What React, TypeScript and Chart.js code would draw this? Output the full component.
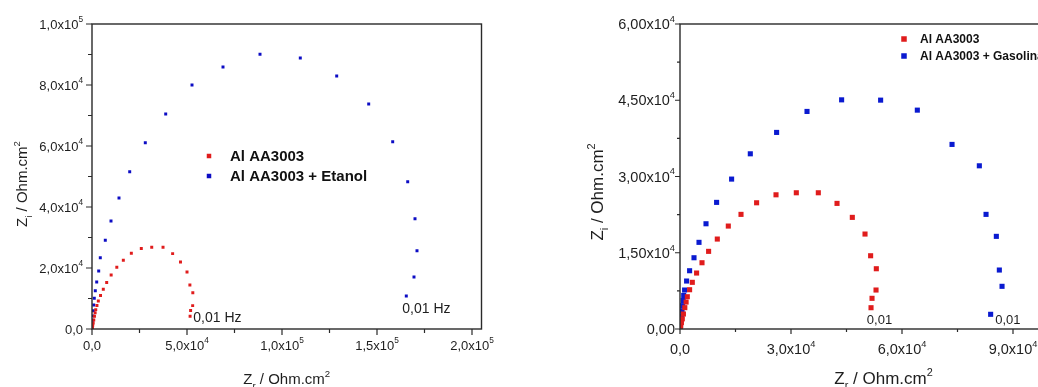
import React, { useEffect, useRef } from 'react';
import { Chart, registerables } from 'chart.js';

Chart.register(...registerables);

// ---------------- data ----------------
// Al AA3003 (same specimen shown in both plots)
const alX = [30, 90, 200, 380, 620, 920, 1300, 1650, 1973, 2595, 3325, 4487, 5947, 7731, 10082, 13055, 16488, 20705, 25949, 31436, 37383, 42438, 46573, 50005, 51520, 53060, 52980, 51900, 51630];
const alY = [100, 300, 650, 1250, 2000, 2950, 4200, 5300, 6350, 7726, 9181, 11010, 13035, 15276, 17694, 20250, 22550, 24830, 26400, 26800, 26800, 24710, 21960, 18680, 14410, 11855, 7667, 6036, 4188];

// Al AA3003 + Etanol
const etanolX = [20, 60, 130, 230, 360, 520, 700, 895, 1210, 1737, 2474, 3526, 4368, 7000, 10000, 14210, 19842, 28053, 38790, 52632, 68947, 88421, 109630, 128790, 145630, 158260, 166160, 170000, 171050, 169470, 165420];
const etanolY = [150, 450, 1000, 1800, 2900, 4300, 6000, 7870, 10066, 12560, 15410, 19018, 23380, 29085, 35410, 42950, 51580, 61090, 70500, 80000, 85900, 90070, 88860, 82960, 73780, 61420, 48300, 36170, 25670, 17050, 10820];

// Al AA3003 + Gasolina
const gasolinaX = [20, 100, 250, 400, 550, 700, 850, 1000, 1243, 1784, 2595, 3784, 5136, 7028, 9893, 13947, 19002, 26111, 34328, 43680, 54222, 64142, 73522, 80902, 82713, 85497, 86308, 87037, 83957];
const gasolinaY = [150, 700, 1600, 2600, 3600, 4600, 5600, 6600, 7667, 9437, 11462, 14018, 17046, 20702, 24909, 29490, 34465, 38672, 42800, 45080, 45021, 43055, 36312, 32105, 22550, 18225, 11600, 8395, 2890];

const nameAl = 'Al AA3003';
const nameEtanol = 'Al AA3003 + Etanol';
const nameGasolina = 'Al AA3003 + Gasolina';

// ticks
const leftXTicks = [0, 50000, 100000, 150000, 200000];
const leftXTickLabels = ['0,0', '5,0x10^{4}', '1,0x10^{5}', '1,5x10^{5}', '2,0x10^{5}'];
const leftXMinor = [25000, 75000, 125000, 175000];
const leftYTicks = [0, 20000, 40000, 60000, 80000, 100000];
const leftYTickLabels = ['0,0', '2,0x10^{4}', '4,0x10^{4}', '6,0x10^{4}', '8,0x10^{4}', '1,0x10^{5}'];
const leftYMinor = [10000, 30000, 50000, 70000, 90000];

const rightXTicks = [0, 30000, 60000, 90000];
const rightXTickLabels = ['0,0', '3,0x10^{4}', '6,0x10^{4}', '9,0x10^{4}'];
const rightXMinor = [15000, 45000, 75000, 105000];
const rightYTicks = [0, 15000, 30000, 45000, 60000];
const rightYTickLabels = ['0,00', '1,50x10^{4}', '3,00x10^{4}', '4,50x10^{4}', '6,00x10^{4}'];
const rightYMinor = [7500, 22500, 37500, 52500];

const xTitle = 'Z_{r} / Ohm.cm^{2}';
const yTitle = 'Z_{i} / Ohm.cm^{2}';
const noteLeft = '0,01 Hz';
const noteRight = '0,01';

// ---------------- drawing helpers ----------------
const FAMILY = '"Liberation Sans", Arial, Helvetica, sans-serif';
const RED = '#e01c1c';
const BLUE = '#0c0cc4';
const BLUE2 = '#0a1ad0';

type Seg = { t: string; k: 'n' | 'sub' | 'sup' };

function parseRich(s: string): Seg[] {
  const out: Seg[] = [];
  const re = /([_^])\{([^}]*)\}/g;
  let last = 0;
  let m: RegExpExecArray | null;
  while ((m = re.exec(s))) {
    if (m.index > last) out.push({ t: s.slice(last, m.index), k: 'n' });
    out.push({ t: m[2], k: m[1] === '_' ? 'sub' : 'sup' });
    last = re.lastIndex;
  }
  if (last < s.length) out.push({ t: s.slice(last), k: 'n' });
  return out;
}

function drawRich(
  ctx: CanvasRenderingContext2D,
  s: string,
  x: number,
  y: number,
  align: 'left' | 'center' | 'right',
  size: number,
  weight = 'normal',
  color = '#1e1e1e'
) {
  const segs = parseRich(s);
  const small = size * 0.64;
  const fontOf = (k: string) => `${weight} ${k === 'n' ? size : small}px ${FAMILY}`;
  let total = 0;
  const widths = segs.map((g) => {
    ctx.font = fontOf(g.k);
    const w = ctx.measureText(g.t).width;
    total += w;
    return w;
  });
  let cx = align === 'center' ? x - total / 2 : align === 'right' ? x - total : x;
  ctx.fillStyle = color;
  ctx.textBaseline = 'alphabetic';
  ctx.textAlign = 'left';
  const base = y + size * 0.36;
  segs.forEach((g, i) => {
    ctx.font = fontOf(g.k);
    const dy = g.k === 'sup' ? -size * 0.5 : g.k === 'sub' ? size * 0.3 : 0;
    ctx.fillText(g.t, cx, base + dy);
    cx += widths[i];
  });
}

type DecorCfg = {
  xTicks: number[];
  xLabels: string[];
  xMinor: number[];
  yTicks: number[];
  yLabels: string[];
  yMinor: number[];
  tickSize: number;
  majorLen: number;
  minorLen: number;
  xLabelOffset: number;
  yLabelOffset: number;
  titleSize: number;
  xTitleY: number;
  yTitleX: number;
  yTitleY: number;
  legendX: number;
  legendTextX: number;
  legendY: number;
  legendGap: number;
  legendSize: number;
  legendMarker: number;
  noteSize: number;
  notes: { text: string; x: number; y: number }[];
};

function makeDecor(cfg: DecorCfg) {
  return {
    id: 'decor',
    afterDraw(chart: any) {
      const ctx: CanvasRenderingContext2D = chart.ctx;
      const { left, right, top, bottom } = chart.chartArea;
      const xs = chart.scales.x;
      const ys = chart.scales.y;
      ctx.save();
      ctx.strokeStyle = '#2a2a2a';
      ctx.lineWidth = 1.4;
      ctx.strokeRect(left, top, right - left, bottom - top);
      ctx.lineWidth = 1.2;
      ctx.beginPath();
      cfg.xTicks.forEach((v) => {
        const px = xs.getPixelForValue(v);
        ctx.moveTo(px, bottom);
        ctx.lineTo(px, bottom + cfg.majorLen);
      });
      cfg.xMinor.forEach((v) => {
        const px = xs.getPixelForValue(v);
        ctx.moveTo(px, bottom);
        ctx.lineTo(px, bottom + cfg.minorLen);
      });
      cfg.yTicks.forEach((v) => {
        const py = ys.getPixelForValue(v);
        ctx.moveTo(left, py);
        ctx.lineTo(left - cfg.majorLen, py);
      });
      cfg.yMinor.forEach((v) => {
        const py = ys.getPixelForValue(v);
        ctx.moveTo(left, py);
        ctx.lineTo(left - cfg.minorLen, py);
      });
      ctx.stroke();

      cfg.xTicks.forEach((v, i) =>
        drawRich(ctx, cfg.xLabels[i], xs.getPixelForValue(v), bottom + cfg.xLabelOffset, 'center', cfg.tickSize)
      );
      cfg.yTicks.forEach((v, i) =>
        drawRich(ctx, cfg.yLabels[i], left - cfg.yLabelOffset, ys.getPixelForValue(v), 'right', cfg.tickSize)
      );

      drawRich(ctx, xTitle, (left + right) / 2, cfg.xTitleY, 'center', cfg.titleSize);
      ctx.save();
      ctx.translate(cfg.yTitleX, cfg.yTitleY);
      ctx.rotate(-Math.PI / 2);
      drawRich(ctx, yTitle, 0, 0, 'center', cfg.titleSize);
      ctx.restore();

      chart.data.datasets.forEach((ds: any, i: number) => {
        const ly = cfg.legendY + i * cfg.legendGap;
        const s = cfg.legendMarker;
        ctx.fillStyle = ds.backgroundColor;
        ctx.fillRect(cfg.legendX - s / 2, ly - s / 2, s, s);
        drawRich(ctx, ds.label, cfg.legendTextX, ly, 'left', cfg.legendSize, 'bold', '#111');
      });

      cfg.notes.forEach((n) =>
        drawRich(ctx, n.text, xs.getPixelForValue(n.x), ys.getPixelForValue(n.y), 'left', cfg.noteSize)
      );
      ctx.restore();
    },
  };
}

function pts(xs: number[], ys: number[]) {
  return xs.map((x, i) => ({ x, y: ys[i] }));
}

function makeDataset(label: string, xs: number[], ys: number[], color: string, r: number) {
  return {
    label,
    data: pts(xs, ys),
    backgroundColor: color,
    borderColor: color,
    pointStyle: 'rect',
    pointRadius: r,
    pointBorderWidth: 0,
    pointHoverRadius: r,
    showLine: false,
  };
}

export default function App() {
  const leftRef = useRef<HTMLCanvasElement>(null);
  const rightRef = useRef<HTMLCanvasElement>(null);

  useEffect(() => {
    const left = new Chart(leftRef.current as HTMLCanvasElement, {
      type: 'scatter',
      data: {
        datasets: [
          makeDataset(nameAl, alX, alY, RED, 2.1),
          makeDataset(nameEtanol, etanolX, etanolY, BLUE, 2.1),
        ] as any,
      },
      options: {
        responsive: false,
        animation: false,
        layout: { padding: { left: 92, top: 24, right: 18.5, bottom: 58 } },
        plugins: { legend: { display: false }, tooltip: { enabled: false } },
        scales: {
          x: { type: 'linear', display: false, min: 0, max: 205000 },
          y: { type: 'linear', display: false, min: 0, max: 100000 },
        },
      },
      plugins: [
        makeDecor({
          xTicks: leftXTicks,
          xLabels: leftXTickLabels,
          xMinor: leftXMinor,
          yTicks: leftYTicks,
          yLabels: leftYTickLabels,
          yMinor: leftYMinor,
          tickSize: 13,
          majorLen: 6,
          minorLen: 4,
          xLabelOffset: 16,
          yLabelOffset: 9,
          titleSize: 15,
          xTitleY: 379,
          yTitleX: 22,
          yTitleY: 184,
          legendX: 209,
          legendTextX: 230,
          legendY: 156,
          legendGap: 20,
          legendSize: 15,
          legendMarker: 4.5,
          noteSize: 14,
          notes: [
            { text: noteLeft, x: 53300, y: 4000 },
            { text: noteLeft, x: 163300, y: 6800 },
          ],
        }) as any,
      ],
    });

    const right = new Chart(rightRef.current as HTMLCanvasElement, {
      type: 'scatter',
      data: {
        datasets: [
          makeDataset(nameAl, alX, alY, RED, 3.6),
          makeDataset(nameGasolina, gasolinaX, gasolinaY, BLUE2, 3.6),
        ] as any,
      },
      options: {
        responsive: false,
        animation: false,
        layout: { padding: { left: 120, top: 24, right: 73, bottom: 58 } },
        plugins: { legend: { display: false }, tooltip: { enabled: false } },
        scales: {
          x: { type: 'linear', display: false, min: 0, max: 110000 },
          y: { type: 'linear', display: false, min: 0, max: 60000 },
        },
      },
      plugins: [
        makeDecor({
          xTicks: rightXTicks,
          xLabels: rightXTickLabels,
          xMinor: rightXMinor,
          yTicks: rightYTicks,
          yLabels: rightYTickLabels,
          yMinor: rightYMinor,
          tickSize: 14.5,
          majorLen: 5,
          minorLen: 3,
          xLabelOffset: 20,
          yLabelOffset: 5,
          titleSize: 17,
          xTitleY: 378,
          yTitleX: 37,
          yTitleY: 192,
          legendX: 344,
          legendTextX: 360,
          legendY: 39,
          legendGap: 17,
          legendSize: 12,
          legendMarker: 5.5,
          noteSize: 13,
          notes: [
            { text: noteRight, x: 50500, y: 2000 },
            { text: noteRight, x: 85200, y: 2000 },
          ],
        }) as any,
      ],
    });

    return () => {
      left.destroy();
      right.destroy();
    };
  }, []);

  return (
    <div
      style={{
        position: 'fixed',
        left: 0,
        top: 0,
        width: 1038,
        height: 387,
        overflow: 'hidden',
        background: '#ffffff',
      }}
    >
      <canvas ref={leftRef} width={500} height={387} style={{ position: 'absolute', left: 0, top: 0 }} />
      <canvas ref={rightRef} width={600} height={387} style={{ position: 'absolute', left: 560, top: 0 }} />
    </div>
  );
}
